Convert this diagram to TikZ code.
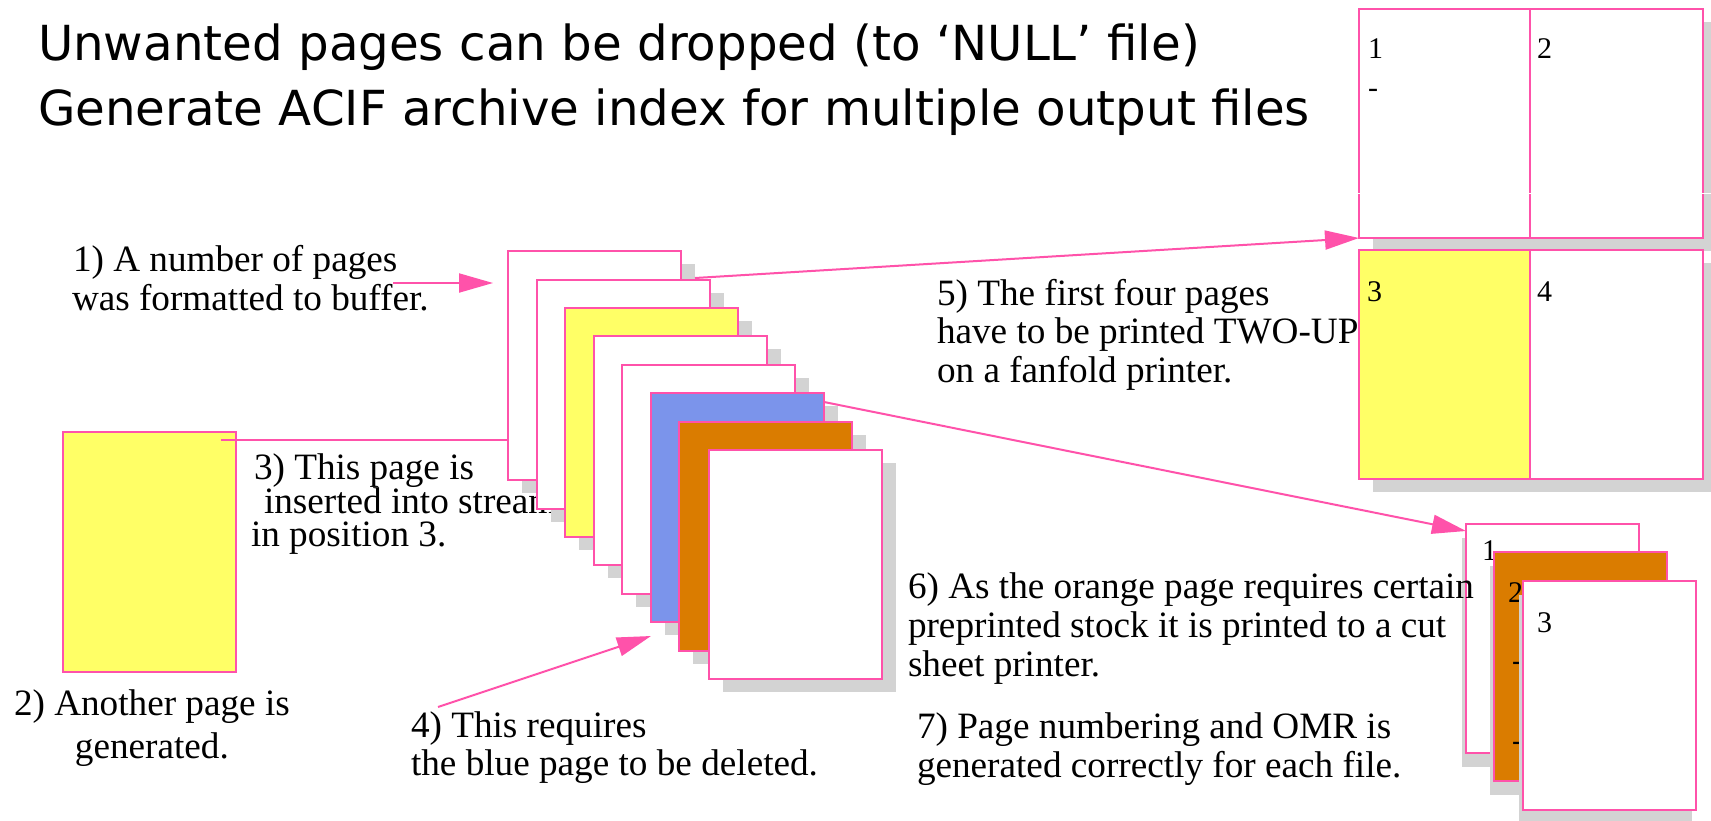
\documentclass[tikz,border=0pt]{standalone}
\usepackage{fontspec}
\setmainfont{Liberation Serif}
\newfontfamily\titlefont{DejaVu Sans}
\usetikzlibrary{arrows.meta,shadows,calc}
\definecolor{pinkc}{RGB}{255,82,170}
\definecolor{yellowc}{RGB}{255,255,102}
\definecolor{bluec}{RGB}{123,148,235}
\definecolor{orangec}{RGB}{218,124,0}
\definecolor{shadc}{RGB}{211,211,211}
\begin{document}
\begin{tikzpicture}[x=1pt,y=-1pt,
  pg/.style={draw=pinkc, line width=2pt, fill=white, inner sep=0pt, outer sep=0pt,
    minimum width=173pt, minimum height=229pt, anchor=north west},
  shd/.style={drop shadow={shadow xshift=14pt,shadow yshift=-13pt,fill=shadc,opacity=1}},
  shdl/.style={drop shadow={shadow xshift=-4pt,shadow yshift=-14pt,fill=shadc,opacity=1}},
  txt/.style={anchor=base west, inner sep=0pt, outer sep=0pt, font=\fontsize{37.2}{39}\selectfont},
  num/.style={anchor=base west, inner sep=0pt, outer sep=0pt, font=\fontsize{30}{36}\selectfont},
  ttl/.style={anchor=base west, inner sep=0pt, outer sep=0pt, font=\titlefont\fontsize{48.3}{60}\selectfont},
  conn/.style={draw=pinkc, line width=2pt},
  arr/.style={conn, -{Triangle[length=34pt,width=19pt]}}]
\useasboundingbox (0,0) rectangle (1711,820);
\fill[white] (0,0) rectangle (1711,820);

% title
\node[ttl] (title1) at (38,60) {Unwanted pages can be dropped (to ‘NULL’ file)};
\node[ttl] (title2) at (38,125) {Generate ACIF archive index for multiple output files};

% inserted yellow page
\node[pg, fill=yellowc, minimum height=240pt] (yp) at (63,432) {};

% item 3 text (under the stack)
\node[txt, font=\fontsize{37.2}{33}\selectfont] (t3) at (254,479)
  {\vtop{\hbox{3) This page is}\hbox{\hspace{10pt}inserted into stream}\hbox{\hspace{-3pt}in position 3.}}};

% main stack of pages
\foreach \x/\y/\c/\n in {508/251/white/p1, 537/280/white/p2, 565/308/yellowc/p3,
  594/336/white/p4, 622/365/white/p5, 651/393/bluec/p6, 679/422/orangec/p7, 709/450/white/p8}
  \node[pg, shd, fill=\c] (\n) at (\x,\y) {};

% two-up output
\node[pg, shd, minimum width=171pt] (tl) at (1359,9) {};
\node[pg, shd] (tr) at (1530,9) {};
\node[pg, shd, fill=yellowc, minimum width=171pt] (bl) at (1359,250) {};
\node[pg, shd] (br) at (1530,250) {};
\draw[white, line width=1pt] (1357,193) -- (1711,193);
\node[num] (n1) at (1368,58) {1};
\node[num] (n1d) at (1368,97) {-};
\node[num] (n2) at (1537,58) {2};
\node[num] (n3) at (1367,301) {3};
\node[num] (n4) at (1537,301) {4};

% cut sheet output
\node[pg, shdl] (ra) at (1466,524) {};
\node[num] (m1) at (1482,560) {1};
\node[pg, shdl, fill=orangec] (rb) at (1494,552) {};
\node[num] (m2) at (1508,602) {2};
\node[num] (m2a) at (1512,670) {-};
\node[num] (m2b) at (1512,750) {-};
\node[pg, shdl] (rc) at (1523,581) {};
\node[num] (m3) at (1537,632) {3};

% connectors
\coordinate (c3s) at (221,440);
\draw[conn] (c3s) -- (c3s -| p1.west);
\coordinate (a1s) at (393,283);
\coordinate (a1e) at (493,283);
\draw[arr] (a1s) -- (a1e);
\coordinate (a4s) at (438,707);
\coordinate (a4e) at (651,636);
\draw[arr] (a4s) -- (a4e);
\coordinate (a5s) at ($(p1.north east)+(14,27)$);
\draw[arr] (a5s) -- (tl.south west);
\coordinate (a6s) at ($(p6.north east)+(0,9)$);
\draw[arr] (a6s) -- ($(ra.north west)+(0,7)$);

% labels
\node[txt] (t1) at (73,271) {\vtop{\hbox{1) A number of pages}\hbox{\hspace{-1pt}was formatted to buffer.}}};
\node[txt, font=\fontsize{37.2}{43}\selectfont] (t2) at (14,715)
  {\vtop{\halign{\hfil#\hfil\cr 2) Another page is\cr generated.\cr}}};
\node[txt, font=\fontsize{37.2}{38}\selectfont] (t4) at (411,737)
  {\vtop{\hbox{4) This requires}\hbox{the blue page to be deleted.}}};
\node[txt, font=\fontsize{37.2}{38.5}\selectfont] (t5) at (937,305)
  {\vtop{\hbox{5) The first four pages}\hbox{have to be printed TWO-UP}\hbox{on a fanfold printer.}}};
\node[txt] (t6) at (908,598)
  {\vtop{\hbox{6) As the orange page requires certain}\hbox{preprinted stock it is printed to a cut}\hbox{sheet printer.}}};
\node[txt] (t7) at (917,738)
  {\vtop{\hbox{7) Page numbering and OMR is}\hbox{generated correctly for each file.}}};
\end{tikzpicture}
\end{document}
